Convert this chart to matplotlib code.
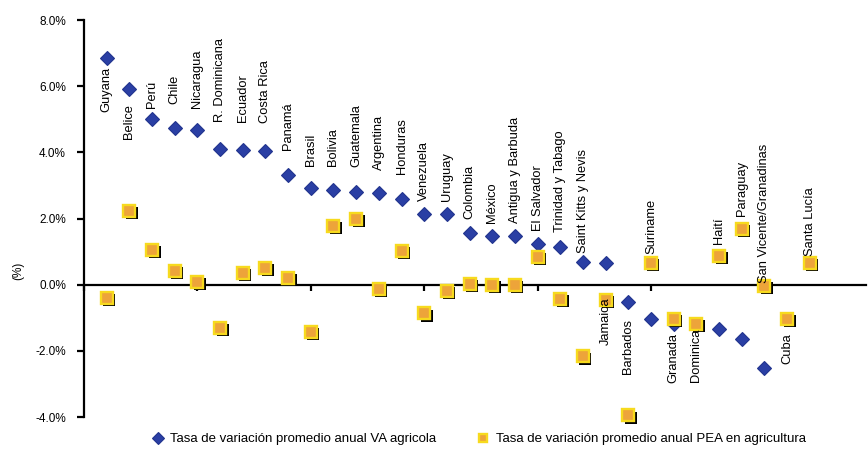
import matplotlib
matplotlib.use('Agg')
import matplotlib.pyplot as plt
from matplotlib.transforms import offset_copy
import numpy as np

# ---------------- data ----------------
countries = ['Guyana', 'Belice', 'Perú', 'Chile', 'Nicaragua', 'R. Dominicana',
             'Ecuador', 'Costa Rica', 'Panamá', 'Brasil', 'Bolivia', 'Guatemala',
             'Argentina', 'Honduras', 'Venezuela', 'Uruguay', 'Colombia', 'México',
             'Antigua y Barbuda', 'El Salvador', 'Trinidad y Tabago',
             'Saint Kitts y Nevis', 'Jamaica', 'Barbados', 'Suriname', 'Granada',
             'Dominica', 'Haití', 'Paraguay', 'San Vicente/Granadinas', 'Cuba',
             'Santa Lucía']

va_agricola = [6.85, 5.91, 5.01, 4.74, 4.68, 4.10, 4.07, 4.05, 3.30, 2.92, 2.87,
               2.80, 2.76, 2.60, 2.15, 2.15, 1.55, 1.48, 1.48, 1.24, 1.13, 0.69,
               0.64, -0.51, -1.03, -1.20, -1.22, -1.33, -1.63, -2.53, np.nan, np.nan]

pea_agricultura = [-0.39, 2.23, 1.06, 0.42, 0.09, -1.30, 0.36, 0.51, 0.21, -1.42,
                   1.78, 1.99, -0.12, 1.03, -0.87, -0.18, 0.03, 0.0, 0.0, 0.84,
                   -0.42, -2.17, -0.45, -3.95, 0.66, -1.03, -1.18, 0.87, 1.69,
                   -0.03, -1.03, 0.66]

yticks = [-4, -2, 0, 2, 4, 6, 8]
ytick_labels = ['-4.0%', '-2.0%', '0.0%', '2.0%', '4.0%', '6.0%', '8.0%']
legend_labels = ['Tasa de variación promedio anual VA agricola',
                 'Tasa de variación promedio anual PEA en agricultura']

# ---------------- label placement (style) ----------------
# (series the label is attached to, side, gap in pixels between point and text)
label_place = [('va', 'below', 9), ('va', 'below', 15), ('va', 'above', 11),
               ('va', 'above', 24), ('va', 'above', 22), ('va', 'above', 27),
               ('va', 'above', 28), ('va', 'above', 28), ('va', 'above', 25),
               ('va', 'above', 22), ('va', 'above', 24), ('va', 'above', 25),
               ('va', 'above', 23), ('va', 'above', 25), ('va', 'above', 13),
               ('va', 'above', 13), ('va', 'above', 14), ('va', 'above', 13),
               ('va', 'above', 13), ('va', 'above', 13), ('va', 'above', 15),
               ('va', 'above', 9), ('pea', 'below', -2), ('va', 'below', 17),
               ('pea', 'above', 9), ('va', 'below', 9), ('pea', 'below', 5),
               ('pea', 'above', 12), ('pea', 'above', 13), ('pea', 'above', 3),
               ('pea', 'below', 15), ('pea', 'above', 7)]

plt.rcParams['font.family'] = ['Liberation Sans', 'DejaVu Sans']

W, H = 868, 454
fig = plt.figure(figsize=(W / 100, H / 100), dpi=100)
ax = fig.add_axes([84 / W, 37 / H, 782 / W, 397 / H])

x = np.arange(1, len(countries) + 1)
ax.set_xlim(0, 34.48)
ax.set_ylim(-4, 8)

blue = '#2A3FA4'
orange = '#EDA43A'
yellow = '#F7DA1E'

l1, = ax.plot(x, va_agricola, 'D', color=blue, mec='#22348E', mew=0.8, ms=7.5,
              zorder=3, label=legend_labels[0], clip_on=False)
shadow = offset_copy(ax.transData, fig=fig, x=2.5, y=-2.5, units='dots')
ax.plot(x, pea_agricultura, 's', color='black', ms=8, mew=0,
        transform=shadow, zorder=4, clip_on=False)
l2, = ax.plot(x, pea_agricultura, 's', mfc=orange, mec=yellow, mew=1.7, ms=8,
              zorder=5, label=legend_labels[1], clip_on=False)

# country labels
for i, name in enumerate(countries):
    series, side, gap = label_place[i]
    yv = va_agricola[i] if series == 'va' else pea_agricultura[i]
    dy = gap * 72 / 100
    if side == 'above':
        ax.annotate(name, (x[i], yv), xytext=(0, dy), textcoords='offset points',
                    rotation=90, ha='center', va='bottom', fontsize=9.3,
                    color='black', zorder=6)
    else:
        ax.annotate(name, (x[i], yv), xytext=(0, -dy), textcoords='offset points',
                    rotation=90, ha='center', va='top', fontsize=9.3,
                    color='black', zorder=6)

# axes styling
for s in ['top', 'right']:
    ax.spines[s].set_visible(False)
ax.spines['left'].set_linewidth(1.6)
ax.spines['bottom'].set_position(('data', 0))
ax.spines['bottom'].set_linewidth(1.6)
ax.set_yticks(yticks)
ax.set_yticklabels(ytick_labels, fontsize=8.5)
ax.tick_params(axis='y', direction='out', length=5, width=1.6, pad=8)
ax.set_xticks([0, 5, 10, 15, 20, 25, 30])
ax.set_xticklabels([])
ax.tick_params(axis='x', direction='out', length=4, width=1.6)

fig.text(18 / W, 1 - 271 / H, '(%)', rotation=90, ha='center', va='center',
         fontsize=8.5)

fig.legend(handles=[l1, l2], labels=legend_labels, loc='center',
           bbox_to_anchor=(478 / W, 1 - 439 / H), ncol=2, frameon=False,
           fontsize=9.5, handletextpad=0.4, columnspacing=3.0, handlelength=1.1,
           markerscale=0.8)

fig.savefig('out.png', dpi=100)
